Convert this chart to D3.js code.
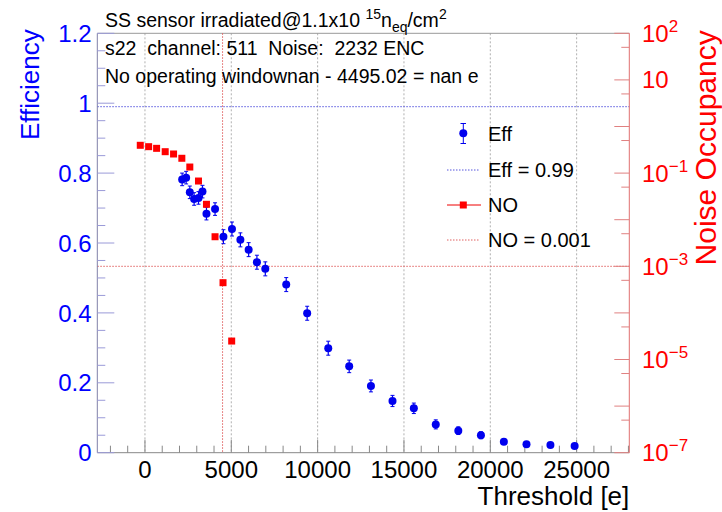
<!DOCTYPE html>
<html>
<head>
<meta charset="utf-8">
<script src="https://cdn.jsdelivr.net/npm/d3@7"></script>
<style>
  body { margin: 0; background: #fff; }
  svg { font-family: "Liberation Sans", Arial, sans-serif; }
  text { white-space: pre; }
</style>
</head>
<body>
<div id="chart"></div>
<script>
// efficiency points (threshold in e, efficiency, error)
const effThr = [2154, 2385, 2598, 2847, 3100, 3331, 3562, 4059, 4544, 5040, 5526, 6005, 6484, 6969,
                8181, 9394, 10615, 11828, 13088, 14336, 15572, 16842, 18147, 19457, 20785, 22096, 23482, 24884];
const effVal = [0.782, 0.787, 0.745, 0.726, 0.729, 0.747, 0.684, 0.697, 0.618, 0.640, 0.609, 0.581, 0.545, 0.526,
                0.481, 0.399, 0.299, 0.247, 0.191, 0.148, 0.127, 0.081, 0.063, 0.050, 0.031, 0.024, 0.022, 0.019];
const effErr = [0.018, 0.018, 0.018, 0.018, 0.018, 0.018, 0.018, 0.018, 0.02, 0.02, 0.02, 0.02, 0.02, 0.02,
                0.02, 0.02, 0.02, 0.018, 0.017, 0.016, 0.015, 0.013, 0.011, 0.01, 0.006, 0.005, 0.005, 0.005];

// noise occupancy points
const noThr = [-271, 213, 675, 1172, 1657, 2136, 2598, 3100, 3562, 4059, 4521, 5023];
const noVal = [0.395, 0.369, 0.34, 0.288, 0.257, 0.208, 0.135, 0.0676, 0.0214, 0.00431, 4.45e-4, 2.49e-5];

const effCut = 0.99, noCut = 0.001, thrCut = 4495.02;
const xTicks = [0, 5000, 10000, 15000, 20000, 25000];
const effTicks = [0, 0.2, 0.4, 0.6, 0.8, 1, 1.2];
const noLabelExp = [2, 1, -1, -3, -5, -7];

const W = 722, H = 512;
const L = 97.3, R = 629.3, T = 33.3, B = 452.7;

const svg = d3.select("#chart").append("svg")
    .attr("width", W).attr("height", H);

const x = d3.scaleLinear().domain([-2760, 28050]).range([L, R]);
const yE = d3.scaleLinear().domain([0, 1.2]).range([B, T]);
const yN = d3.scaleLog().domain([1e-7, 1e2]).range([B, T]);

// grid
svg.append("g").selectAll("line").data(xTicks).enter().append("line")
    .attr("x1", d => x(d)).attr("x2", d => x(d))
    .attr("y1", T).attr("y2", B)
    .attr("stroke", "#b0b0b0").attr("stroke-dasharray", "2,2");

// frame top
svg.append("line").attr("x1", L).attr("x2", R).attr("y1", T).attr("y2", T)
    .attr("stroke", "#999");

// cut lines
svg.append("line").attr("x1", L).attr("x2", R)
    .attr("y1", yE(effCut)).attr("y2", yE(effCut))
    .attr("stroke", "#5555dd").attr("stroke-dasharray", "1.5,1.5");
svg.append("line").attr("x1", L).attr("x2", R)
    .attr("y1", yN(noCut)).attr("y2", yN(noCut))
    .attr("stroke", "#e06060").attr("stroke-dasharray", "1.5,1.5");
svg.append("line").attr("x1", x(thrCut)).attr("x2", x(thrCut))
    .attr("y1", T).attr("y2", B)
    .attr("stroke", "#e06060").attr("stroke-dasharray", "1.5,1.5");

// x axis
const xg = svg.append("g");
xg.append("line").attr("x1", L).attr("x2", R).attr("y1", B).attr("y2", B).attr("stroke", "#888");
xg.selectAll(".mn").data(d3.range(-2000, 28001, 1000)).enter().append("line")
    .attr("x1", d => x(d)).attr("x2", d => x(d))
    .attr("y1", B).attr("y2", d => d % 5000 === 0 ? B - 13 : B - 7)
    .attr("stroke", "#888");
xg.selectAll("text").data(xTicks).enter().append("text")
    .attr("x", d => x(d)).attr("y", 478)
    .attr("text-anchor", "middle").attr("font-size", 24).attr("fill", "#000")
    .text(d => d);
svg.append("text").attr("x", R).attr("y", 505).attr("text-anchor", "end")
    .attr("font-size", 26).text("Threshold [e]");

// left axis
const lg = svg.append("g");
lg.append("line").attr("x1", L).attr("x2", L).attr("y1", T).attr("y2", B).attr("stroke", "#8080a8");
lg.selectAll(".t").data(d3.range(0, 1.2001, 0.05)).enter().append("line")
    .attr("x1", L).attr("x2", d => Math.abs(d / 0.2 - Math.round(d / 0.2)) < 1e-6 ? L + 17 : L + 8)
    .attr("y1", d => yE(d)).attr("y2", d => yE(d))
    .attr("stroke", "#9a9ad8");
lg.selectAll("text").data(effTicks).enter().append("text")
    .attr("x", 91.5).attr("y", d => yE(d))
    .attr("dy", "0.36em").attr("text-anchor", "end")
    .attr("font-size", 24).attr("fill", "#0000ff")
    .text(d => d3.format("~g")(d));
svg.append("text")
    .attr("transform", `translate(39,${T - 4}) rotate(-90)`)
    .attr("text-anchor", "end").attr("font-size", 26).attr("fill", "#0000ff")
    .text("Efficiency");

// right axis (log)
const rg = svg.append("g");
rg.append("line").attr("x1", R).attr("x2", R).attr("y1", T).attr("y2", B).attr("stroke", "#e07070");
const decades = d3.range(-7, 3);
rg.selectAll(".maj").data(decades).enter().append("line")
    .attr("x1", R - 15).attr("x2", R)
    .attr("y1", d => yN(Math.pow(10, d))).attr("y2", d => yN(Math.pow(10, d)))
    .attr("stroke", "#e08080");
rg.selectAll(".min").data(decades.slice(0, -1)).enter().append("line")
    .attr("x1", R - 8).attr("x2", R)
    .attr("y1", d => yN(5 * Math.pow(10, d))).attr("y2", d => yN(5 * Math.pow(10, d)))
    .attr("stroke", "#e08080");
const rl = rg.selectAll(".lab").data(noLabelExp).enter().append("text")
    .attr("x", 642).attr("y", d => yN(Math.pow(10, d)) + 8.5)
    .attr("font-size", 24).attr("fill", "#ff0000");
rl.append("tspan").text("10");
rl.filter(d => d !== 1).append("tspan")
    .attr("dy", -10).attr("font-size", 17)
    .text(d => d < 0 ? "\u2212" + (-d) : d);
svg.append("text")
    .attr("transform", `translate(716,${T - 3}) rotate(-90)`)
    .attr("text-anchor", "end").attr("font-size", 30).attr("fill", "#ff0000")
    .text("Noise Occupancy");

// efficiency points
const eg = svg.append("g");
const effData = effThr.map((t, i) => ({ t: t, v: effVal[i], e: effErr[i] }));
eg.selectAll(".eb").data(effData).enter().append("line")
    .attr("x1", d => x(d.t)).attr("x2", d => x(d.t))
    .attr("y1", d => yE(d.v - d.e)).attr("y2", d => yE(d.v + d.e))
    .attr("stroke", "#0000ee").attr("stroke-width", 1.2);
eg.selectAll(".cap").data(effData.flatMap(d => [d.v - d.e, d.v + d.e].map(v => ({ t: d.t, v: v }))))
    .enter().append("line")
    .attr("x1", d => x(d.t) - 2).attr("x2", d => x(d.t) + 2)
    .attr("y1", d => yE(d.v)).attr("y2", d => yE(d.v))
    .attr("stroke", "#0000ee");
eg.selectAll("circle").data(effData).enter().append("circle")
    .attr("cx", d => x(d.t)).attr("cy", d => yE(d.v)).attr("r", 4)
    .attr("fill", "#0000ee");

// noise occupancy points
svg.append("g").selectAll("rect").data(noThr.map((t, i) => ({ t: t, v: noVal[i] }))).enter()
    .append("rect")
    .attr("x", d => x(d.t) - 3.5).attr("y", d => yN(d.v) - 3.5)
    .attr("width", 7).attr("height", 7).attr("fill", "#ff0000");

// legend
const lgY = [133.3, 170, 205, 240];
const leg = svg.append("g");
leg.append("line").attr("x1", 463.3).attr("x2", 463.3).attr("y1", 123.5).attr("y2", 143.5).attr("stroke", "#0000ee");
leg.append("line").attr("x1", 460.5).attr("x2", 466).attr("y1", 123.5).attr("y2", 123.5).attr("stroke", "#0000ee");
leg.append("line").attr("x1", 460.5).attr("x2", 466).attr("y1", 143.5).attr("y2", 143.5).attr("stroke", "#0000ee");
leg.append("circle").attr("cx", 463.3).attr("cy", lgY[0]).attr("r", 4).attr("fill", "#0000ee");
leg.append("line").attr("x1", 447).attr("x2", 480).attr("y1", lgY[1]).attr("y2", lgY[1])
    .attr("stroke", "#5555dd").attr("stroke-dasharray", "1.5,1.5");
leg.append("line").attr("x1", 447).attr("x2", 481).attr("y1", lgY[2]).attr("y2", lgY[2]).attr("stroke", "#ee0000");
leg.append("rect").attr("x", 459.8).attr("y", lgY[2] - 3.5).attr("width", 7).attr("height", 7).attr("fill", "#ff0000");
leg.append("line").attr("x1", 447).attr("x2", 480).attr("y1", lgY[3]).attr("y2", lgY[3])
    .attr("stroke", "#e06060").attr("stroke-dasharray", "1.5,1.5");
leg.selectAll("text").data(["Eff", "Eff = 0.99", "NO", "NO = 0.001"]).enter().append("text")
    .attr("x", 488).attr("y", (d, i) => lgY[i]).attr("dy", "0.36em")
    .attr("font-size", 20).text(d => d);

// header texts
const h1 = svg.append("text").attr("x", 105).attr("y", 27).attr("font-size", 19.5);
h1.append("tspan").text("SS sensor irradiated@1.1x10 ");
h1.append("tspan").attr("dy", -8).attr("font-size", 14).text("15");
h1.append("tspan").attr("dy", 8).text("n");
h1.append("tspan").attr("dy", 5).attr("font-size", 14).text("eq");
h1.append("tspan").attr("dy", -5).text("/cm");
h1.append("tspan").attr("dy", -8).attr("font-size", 14).text("2");
svg.append("text").attr("x", 105).attr("y", 55).attr("font-size", 19.5)
    .text("s22  channel: 511  Noise:  2232 ENC");
svg.append("text").attr("x", 105).attr("y", 83).attr("font-size", 19.5)
    .text("No operating windownan - 4495.02 = nan e");
</script>
</body>
</html>
